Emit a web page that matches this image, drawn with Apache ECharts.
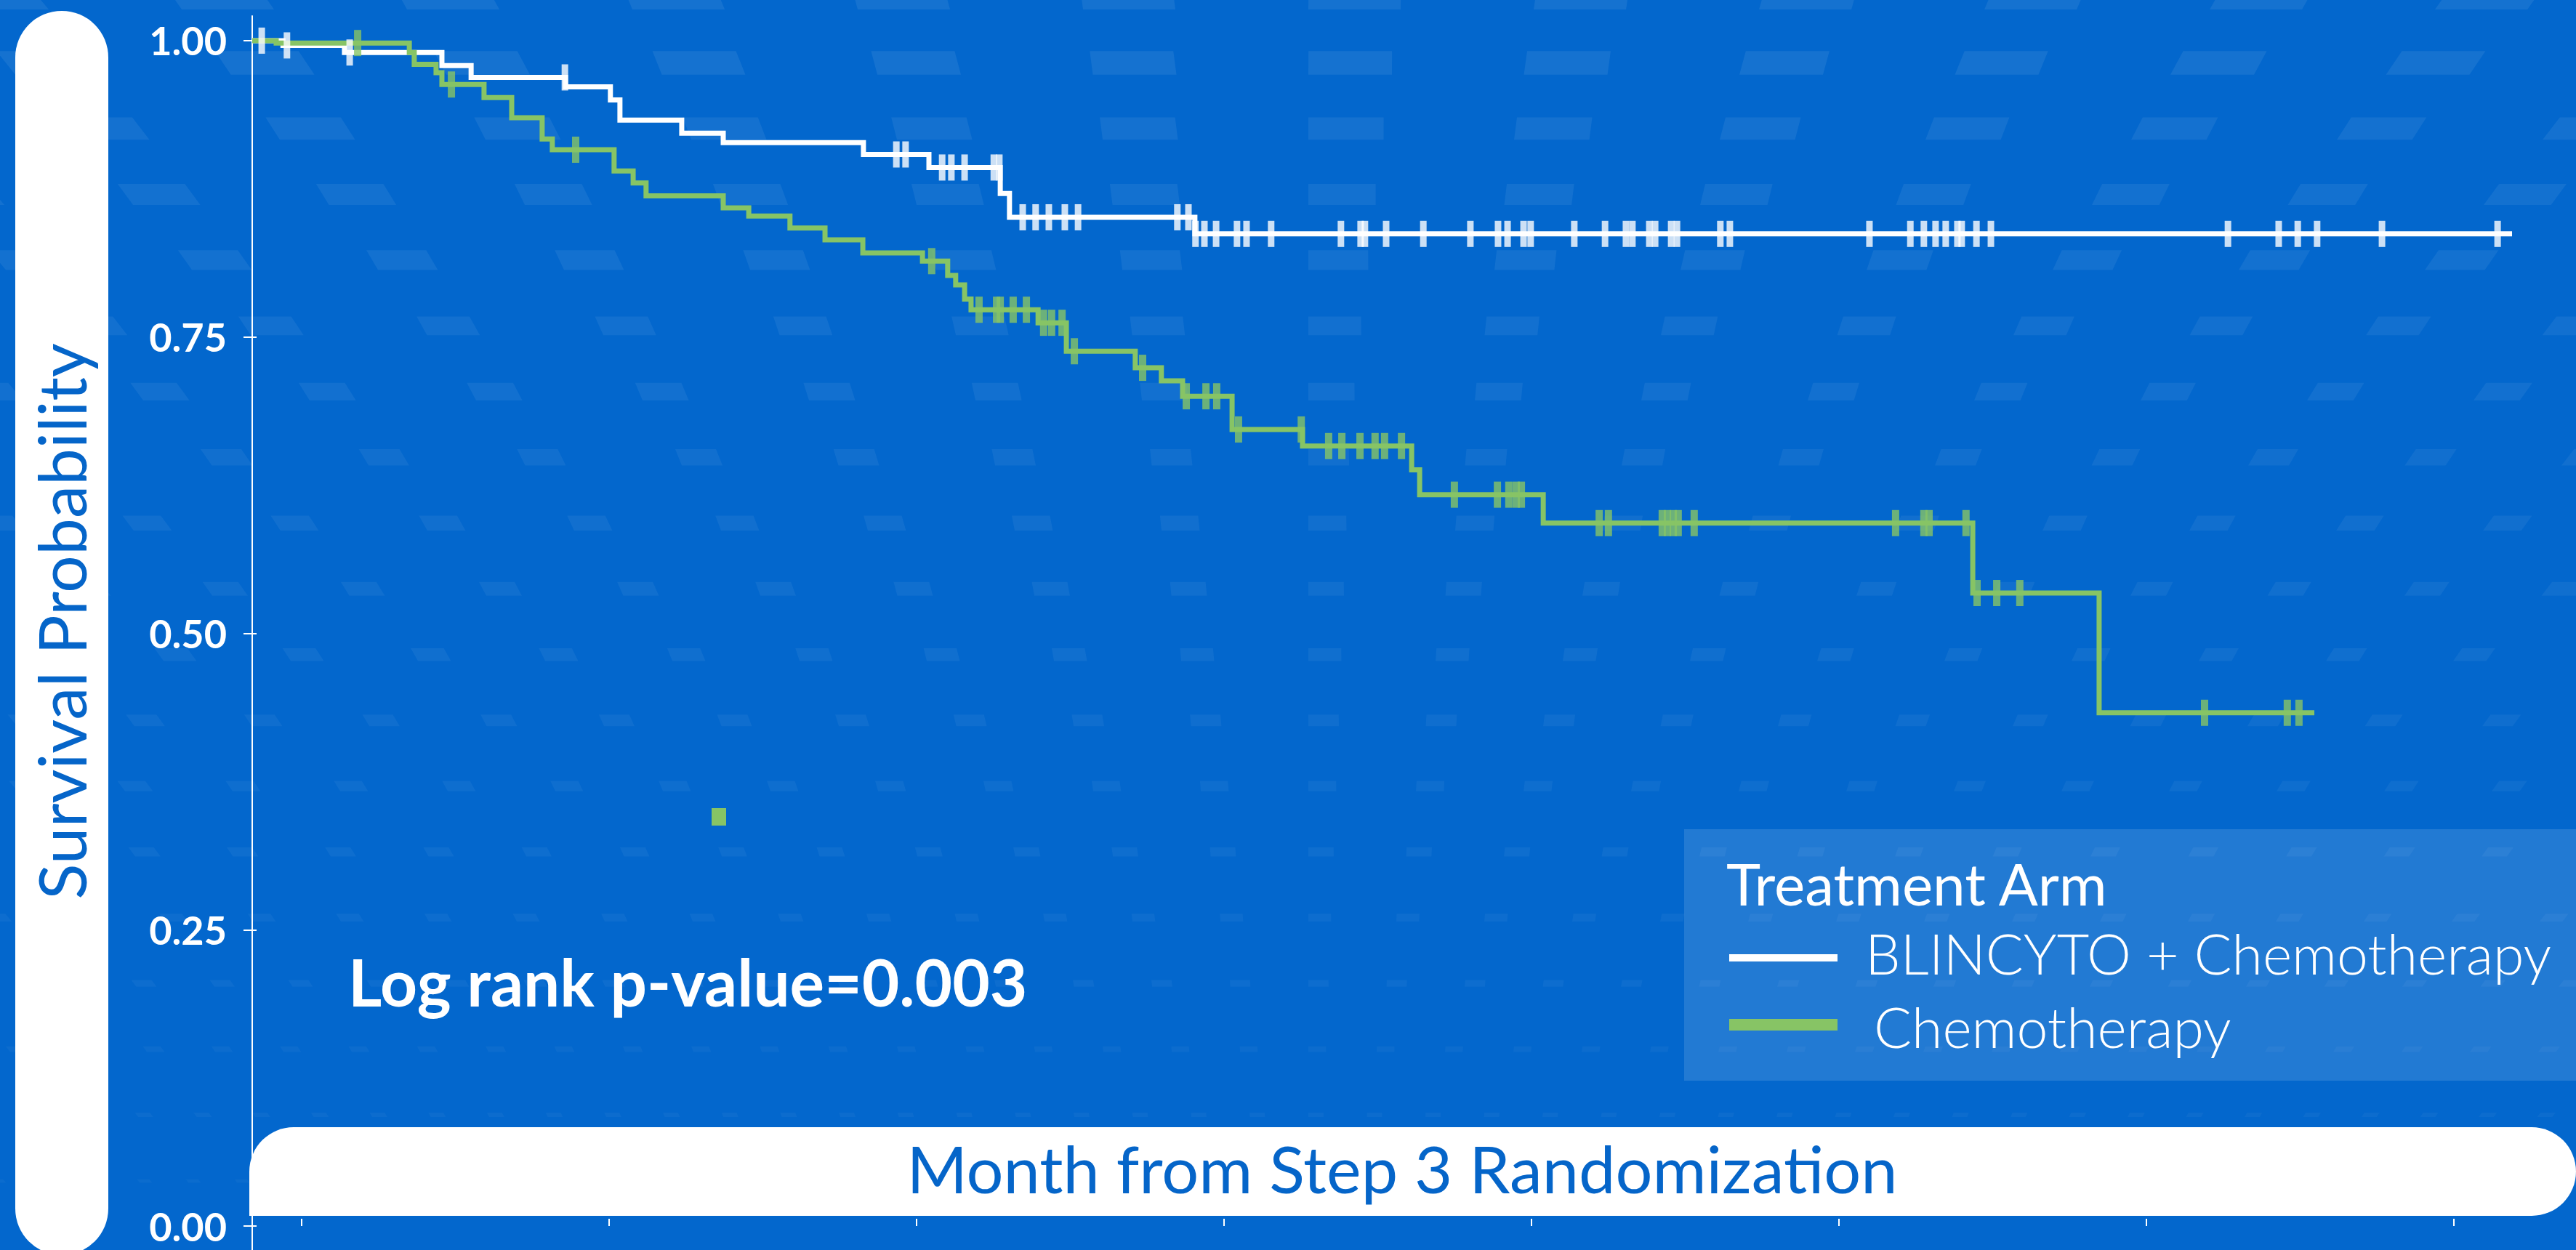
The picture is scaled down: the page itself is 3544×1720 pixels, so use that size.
<!DOCTYPE html>
<html>
<head>
<meta charset="utf-8">
<script src="https://cdn.jsdelivr.net/npm/echarts@6/dist/echarts.min.js"></script>
<style>
  html, body { margin: 0; padding: 0; background: #0367CD; }
  #chart { width: 3544px; height: 1720px; }
</style>
</head>
<body>
<div id="chart"></div>
<script>
// ---------- data (months from randomization, survival probability) ----------
const seriesNames = ['BLINCYTO + Chemotherapy', 'Chemotherapy'];
const legendTitle = 'Treatment Arm';
const yAxisTitle = 'Survival Probability';
const xAxisTitle = 'Month from Step 3 Randomization';
const pValueText = 'Log rank p-value=0.003';

const yTickValues = [0, 0.25, 0.5, 0.75, 1];
const xTickMonths = [1.6, 11.6, 21.6, 31.6, 41.6, 51.6, 61.6, 71.6];

const blincytoTimes = [0, 1.0, 3.0, 6.17, 7.12, 10.19, 11.65, 11.96, 13.97, 15.32, 19.88, 22.01, 24.33, 24.63, 30.66, 73.5];
const blincytoSurv  = [1.0, 0.996, 0.990, 0.979, 0.969, 0.961, 0.950, 0.933, 0.922, 0.914, 0.904, 0.893, 0.871, 0.851, 0.837, 0.837];
const blincytoCensor = [0.31, 1.13, 3.17, 10.17, 20.95, 21.25, 22.44, 22.74, 23.17, 24.12, 24.30, 25.06, 25.48, 25.91, 26.43, 26.86,
  30.09, 30.45, 30.68, 30.97, 31.35, 32.03, 32.34, 33.14, 35.41, 36.05, 36.19, 36.88, 38.09, 39.62, 40.52, 40.83, 41.35, 41.58,
  43.0, 44.0, 44.68, 44.89, 45.44, 45.63, 46.15, 46.34, 47.75, 48.06, 52.6, 53.93, 54.37, 54.75, 55.08, 55.46, 55.6, 56.08, 56.55,
  64.26, 65.91, 66.53, 67.16, 69.27, 73.03];

const chemoTimes = [0, 0.78, 5.11, 5.27, 5.98, 6.17, 7.54, 8.44, 9.43, 9.76, 11.77, 12.39, 12.81, 15.32, 16.15, 17.49, 18.63, 19.86,
  21.80, 22.62, 22.88, 23.17, 23.38, 25.56, 26.48, 28.72, 29.57, 30.26, 31.87, 34.16, 37.71, 37.97, 41.99, 55.96, 60.07, 67.07];
const chemoSurv  = [1.0, 0.998, 0.990, 0.980, 0.973, 0.963, 0.952, 0.935, 0.917, 0.908, 0.890, 0.880, 0.869, 0.859, 0.852, 0.842, 0.832, 0.821,
  0.814, 0.802, 0.794, 0.782, 0.773, 0.762, 0.738, 0.724, 0.713, 0.700, 0.672, 0.658, 0.638, 0.617, 0.593, 0.534, 0.433, 0.433];
const chemoCensor = [3.43, 6.48, 10.52, 22.10, 23.64, 24.21, 24.33, 24.75, 25.18, 25.74, 26.00, 26.34, 26.74, 28.96, 30.38, 31.02, 31.37,
  32.08, 34.12, 35.01, 35.44, 36.03, 36.52, 36.83, 37.38, 39.10, 40.50, 40.87, 41.11, 41.28, 43.81, 44.11, 45.86, 46.03, 46.22, 46.38,
  46.90, 53.45, 54.37, 54.54, 55.74, 56.10, 56.74, 57.49, 63.50, 66.19, 66.57];

// ---------- helpers ----------
const WHITE = '#FFFFFF';
const GREEN = '#87C465';
const BLUE_TXT = '#0565C9';
const FONT = 'Lato, "Open Sans", "Noto Sans", sans-serif';

function pairs(times, surv) { return times.map((t, i) => [t, surv[i]]); }
function stepValue(times, surv, t) {
  let v = surv[0];
  for (let i = 0; i < times.length; i++) { if (times[i] <= t) v = surv[i]; }
  return v;
}
function censorPoints(cens, times, surv) { return cens.map(t => [t, stepValue(times, surv, t)]); }

// decorative background pattern (perspective rows of faint parallelograms)
const pattern = [];
for (let k = 0; k < 19; k++) {
  const yTop = -21 + 91.3 * k;
  const h = Math.max(5, 34 - 1.65 * k);
  const s = Math.max(60, 310 - 13.5 * k);
  const w = s * Math.max(0.26, 0.41 - 0.022 * k);
  const ax = 1800 + w / 2;
  const alpha = Math.max(0.03, 0.075 - 0.0022 * k);
  const nStart = Math.floor((-200 - ax) / s);
  for (let n = nStart; ax + n * s < 3750; n++) {
    const cx = ax + n * s;
    const dx = (cx - 1850) * h / 2200;
    pattern.push({
      type: 'polygon', silent: true, z: -10,
      shape: { points: [[cx - w / 2 + dx, yTop], [cx + w / 2 + dx, yTop], [cx + w / 2, yTop + h], [cx - w / 2, yTop + h]] },
      style: { fill: 'rgba(255,255,255,' + alpha.toFixed(3) + ')' }
    });
  }
}

const Y_MIN = -0.0202, Y_MAX = 1.0208;
const X_MIN = -0.165, X_MAX = 75.58;

const chart = echarts.init(document.getElementById('chart'), null, { renderer: 'svg', width: 3544, height: 1720 });

const option = {
  animation: false,
  backgroundColor: '#0367CD',
  grid: { left: 340, top: 22, width: 3204, height: 1700 },
  xAxis: {
    type: 'value', min: X_MIN, max: X_MAX,
    axisLine: { show: false },
    axisTick: { show: true, inside: true, length: 10, customValues: xTickMonths, lineStyle: { color: WHITE, width: 2 } },
    axisLabel: { show: false },
    splitLine: { show: false }
  },
  yAxis: [{
    type: 'value', min: Y_MIN, max: Y_MAX,
    axisLine: { show: true, lineStyle: { color: WHITE, width: 2 } },
    axisTick: { show: true, length: 12, customValues: yTickValues, lineStyle: { color: WHITE, width: 2 } },
    axisLabel: {
      show: true, customValues: yTickValues, margin: 28,
      formatter: v => v.toFixed(2),
      color: WHITE, fontFamily: FONT, fontWeight: 'bold', fontSize: 54
    },
    splitLine: { show: false }
  }, {
    type: 'value', min: Y_MIN, max: Y_MAX, position: 'left',
    axisLine: { show: false },
    axisTick: { show: true, inside: true, length: 13, customValues: yTickValues, lineStyle: { color: WHITE, width: 2 } },
    axisLabel: { show: false },
    splitLine: { show: false }
  }],
  series: [
    {
      name: seriesNames[0], type: 'line', step: 'end', showSymbol: false, symbol: 'none',
      data: pairs(blincytoTimes, blincytoSurv),
      lineStyle: { color: WHITE, width: 7, join: 'miter', cap: 'butt' }, z: 3
    },
    {
      name: seriesNames[1], type: 'line', step: 'end', showSymbol: false, symbol: 'none',
      data: pairs(chemoTimes, chemoSurv),
      lineStyle: { color: GREEN, width: 7, join: 'miter', cap: 'butt' }, z: 4
    },
    {
      name: seriesNames[0] + ' censored', type: 'scatter', symbol: 'rect', symbolSize: [9, 36],
      data: censorPoints(blincytoCensor, blincytoTimes, blincytoSurv),
      itemStyle: { color: WHITE }, z: 5
    },
    {
      name: seriesNames[1] + ' censored', type: 'scatter', symbol: 'rect', symbolSize: [10, 36],
      data: censorPoints(chemoCensor, chemoTimes, chemoSurv),
      itemStyle: { color: GREEN }, z: 6
    }
  ],
  graphic: {
    elements: pattern.concat([
      // y axis title pill
      { type: 'rect', z: -5, silent: true, shape: { x: 21, y: 15, width: 128, height: 1712, r: 64 }, style: { fill: WHITE } },
      { type: 'text', z: 20, silent: true, x: 83, y: 855, rotation: Math.PI / 2,
        style: { text: yAxisTitle, fill: BLUE_TXT, font: '400 91px ' + FONT, align: 'center', verticalAlign: 'middle' } },
      // x axis title pill
      { type: 'rect', z: -5, silent: true, shape: { x: 343, y: 1551, width: 3201, height: 122, r: [61, 61, 61, 0] }, style: { fill: WHITE } },
      { type: 'text', z: 20, silent: true, x: 1929, y: 1607,
        style: { text: xAxisTitle, fill: BLUE_TXT, font: '400 90px ' + FONT, align: 'center', verticalAlign: 'middle' } },
      // p-value annotation
      { type: 'text', z: 20, silent: true, x: 479, y: 1350,
        style: { text: pValueText, fill: WHITE, font: 'bold 89px ' + FONT, align: 'left', verticalAlign: 'middle' } },
      // stray green mark
      { type: 'rect', z: 6, silent: true, shape: { x: 979, y: 1112, width: 20, height: 24 }, style: { fill: GREEN } },
      // legend box
      { type: 'rect', z: 8, silent: true, shape: { x: 2317, y: 1141, width: 1227, height: 346 }, style: { fill: 'rgba(255,255,255,0.125)' } },
      { type: 'text', z: 20, silent: true, x: 2375, y: 1215,
        style: { text: legendTitle, fill: WHITE, font: '400 80px ' + FONT, align: 'left', verticalAlign: 'middle' } },
      { type: 'rect', z: 20, silent: true, shape: { x: 2379, y: 1313, width: 149, height: 10 }, style: { fill: WHITE } },
      { type: 'text', z: 20, silent: true, x: 2566, y: 1311,
        style: { text: seriesNames[0], fill: WHITE, font: '300 77px ' + FONT, align: 'left', verticalAlign: 'middle' } },
      { type: 'rect', z: 20, silent: true, shape: { x: 2379, y: 1402, width: 149, height: 16 }, style: { fill: GREEN } },
      { type: 'text', z: 20, silent: true, x: 2578, y: 1412,
        style: { text: seriesNames[1], fill: WHITE, font: '300 77px ' + FONT, align: 'left', verticalAlign: 'middle' } }
    ])
  }
};
chart.setOption(option);
</script>
</body>
</html>
